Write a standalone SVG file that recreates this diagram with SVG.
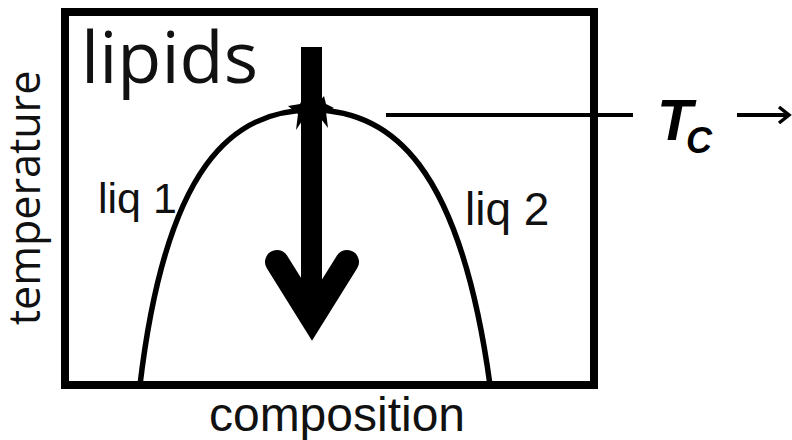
<svg xmlns="http://www.w3.org/2000/svg" width="792" height="440" viewBox="0 0 792 440">
<style>
.sans{font-family:"Liberation Sans",Arial,sans-serif;fill:#111}
.open{font-family:"Open Sans","Noto Sans",sans-serif;fill:#111}
.bi{font-family:"Liberation Sans",Arial,sans-serif;font-weight:bold;font-style:italic;fill:#000}
</style>
<rect width="792" height="440" fill="#fff"/>
<g id="frame">
<rect x="65" y="12" width="529" height="373" fill="none" stroke="#000" stroke-width="8"/>
</g>
<g id="curve">
<path d="M140,385 C166,165 233,110 312,110 C391,110 460,165 490,385" fill="none" stroke="#000" stroke-width="5.5"/>
<polygon points="288,106 300,104 304,96 307,104 318,103 324,96 326,104 334,108 326,112 328,128 318,115 306,115 296,130 298,114" fill="#000"/>
</g>
<g id="labels">
<text class="open" x="81" y="83" font-size="72">lipids</text>
<text class="open" transform="translate(40,198) rotate(-90)" text-anchor="middle" font-size="43">temperature</text>
<text class="sans" x="337" y="431" text-anchor="middle" font-size="48">composition</text>
<text class="sans" x="98" y="213" font-size="43">liq 1</text>
<text class="sans" x="465" y="225" font-size="46">liq 2</text>
<text class="bi" x="657" y="140" font-size="58">T</text>
<text class="bi" x="686" y="153" font-size="36">C</text>
</g>
<g id="connectors">
<rect x="301" y="47" width="21" height="260" fill="#000"/>
<polyline points="277,262 312,318 347,262" fill="none" stroke="#000" stroke-width="24" stroke-linecap="round" stroke-linejoin="miter" stroke-miterlimit="10"/>
<line x1="386" y1="115" x2="633" y2="115" stroke="#000" stroke-width="4"/>
<line x1="737" y1="115" x2="788" y2="115" stroke="#000" stroke-width="4"/>
<polyline points="779,107 789,115 779,123" fill="none" stroke="#000" stroke-width="3.5"/>
</g>
</svg>
